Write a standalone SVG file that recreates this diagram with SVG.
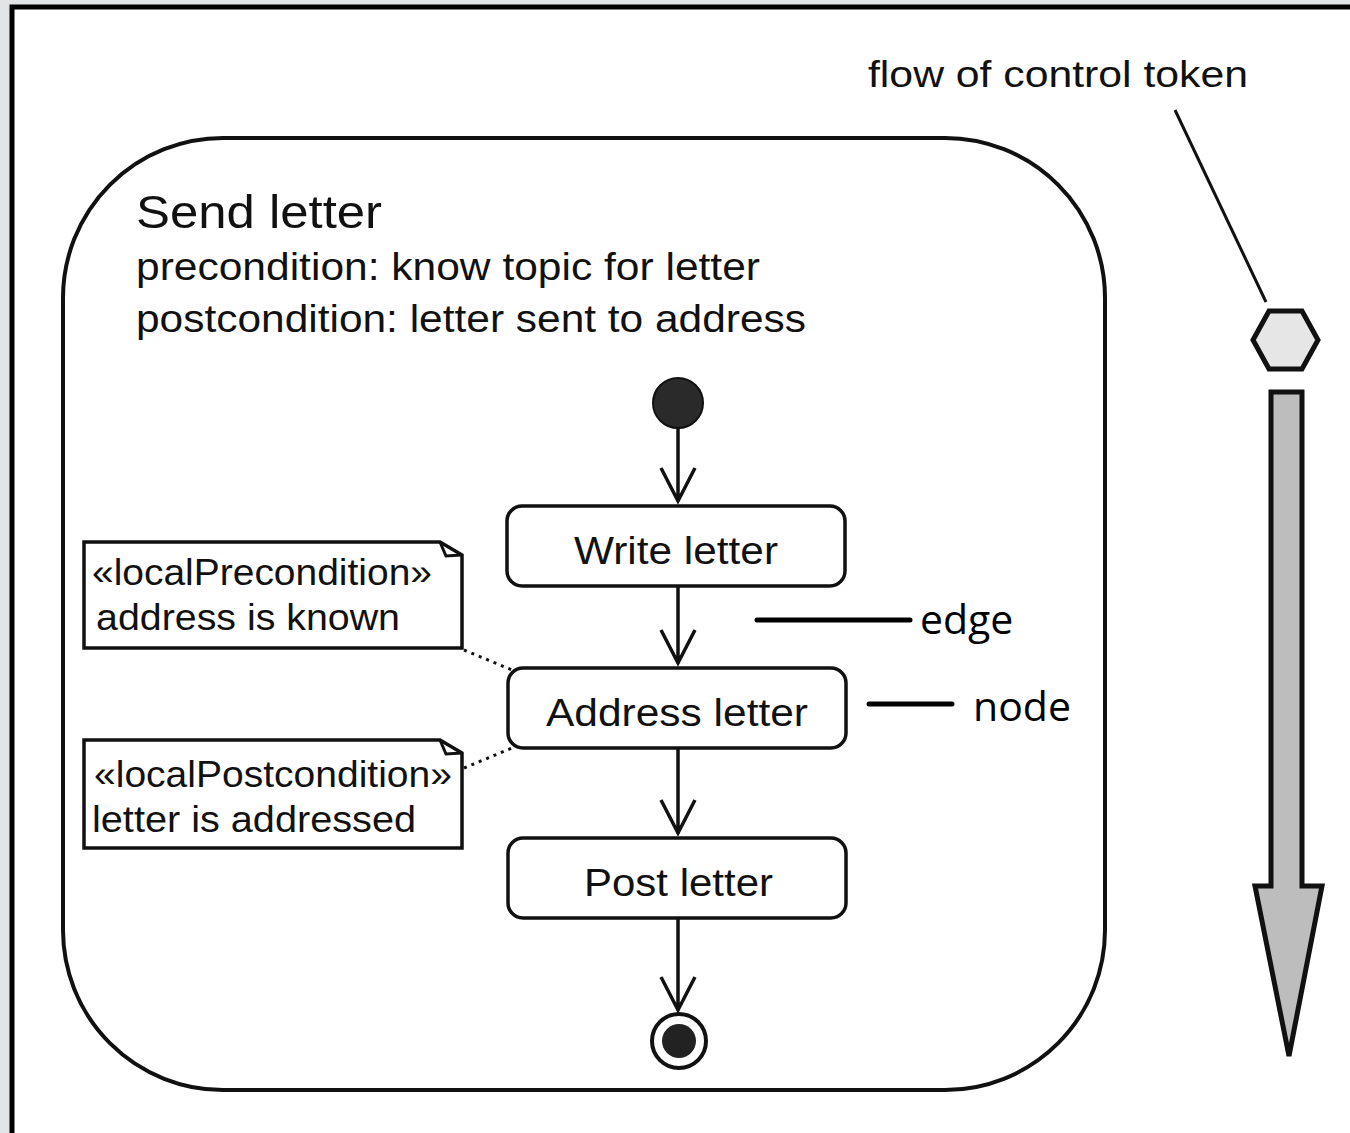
<svg xmlns="http://www.w3.org/2000/svg" width="1350" height="1133" viewBox="0 0 1350 1133">
<defs>
<style>
.t{font-family:"Liberation Sans",Arial,sans-serif;fill:#111;}
.lbl{font-family:"Open Sans","Noto Sans",sans-serif;fill:#000;font-size:41px;}
.box{fill:#fff;stroke:#111;stroke-width:3.5;}
.edge{stroke:#111;stroke-width:3.5;fill:none;}
.dot{stroke:#111;stroke-width:3;stroke-dasharray:3 5;fill:none;}
</style>
</defs>
<rect x="0" y="0" width="1350" height="1133" fill="#e3e4e5"/>
<rect x="12" y="7" width="1345" height="1140" fill="#fff" stroke="#000" stroke-width="5"/>

<g id="activity">
<rect x="63" y="138" width="1042" height="952" rx="160" ry="160" fill="none" stroke="#111" stroke-width="4"/>
<text class="t" x="136" y="228" font-size="46" textLength="246" lengthAdjust="spacingAndGlyphs">Send letter</text>
<text class="t" x="136" y="280" font-size="38" textLength="624" lengthAdjust="spacingAndGlyphs">precondition: know topic for letter</text>
<text class="t" x="136" y="332" font-size="38" textLength="670" lengthAdjust="spacingAndGlyphs">postcondition: letter sent to address</text>
</g>

<g id="initial">
<circle cx="678" cy="403" r="25" fill="#2a2a2a" stroke="#111" stroke-width="2"/>
</g>

<g id="write-letter">
<rect class="box" x="507" y="506" width="338" height="80" rx="15"/>
<text class="t" x="574" y="564" font-size="39" textLength="204" lengthAdjust="spacingAndGlyphs">Write letter</text>
</g>

<g id="address-letter">
<rect class="box" x="508" y="668" width="338" height="80" rx="15"/>
<text class="t" x="546" y="726" font-size="39" textLength="262" lengthAdjust="spacingAndGlyphs">Address letter</text>
</g>

<g id="post-letter">
<rect class="box" x="508" y="838" width="338" height="80" rx="15"/>
<text class="t" x="584" y="896" font-size="39" textLength="189" lengthAdjust="spacingAndGlyphs">Post letter</text>
</g>

<g id="final">
<circle cx="679" cy="1041" r="27" fill="#fff" stroke="#111" stroke-width="4"/>
<circle cx="679" cy="1041" r="17" fill="#222"/>
</g>

<g id="note-pre">
<path class="box" d="M84,542 H440 L462,555 V648 H84 Z" stroke-width="3"/>
<path d="M440,542 L446,556 L462,555" fill="none" stroke="#111" stroke-width="3"/>
<text class="t" x="92" y="585" font-size="36" textLength="340" lengthAdjust="spacingAndGlyphs">«localPrecondition»</text>
<text class="t" x="96" y="630" font-size="36" textLength="304" lengthAdjust="spacingAndGlyphs">address is known</text>
</g>

<g id="note-post">
<path class="box" d="M84,740 H440 L462,753 V848 H84 Z" stroke-width="3"/>
<path d="M440,740 L446,754 L462,753" fill="none" stroke="#111" stroke-width="3"/>
<text class="t" x="94" y="787" font-size="36" textLength="358" lengthAdjust="spacingAndGlyphs">«localPostcondition»</text>
<text class="t" x="92" y="832" font-size="36" textLength="324" lengthAdjust="spacingAndGlyphs">letter is addressed</text>
</g>

<g id="connectors">
<path class="edge" d="M678,428 V502 M661,468 L678,501 L695,468"/>
<path class="edge" d="M678,586 V664 M661,630 L678,663 L695,630"/>
<path class="edge" d="M678,748 V834 M661,800 L678,833 L695,800"/>
<path class="edge" d="M678,918 V1011 M661,977 L678,1010 L695,977"/>
<path class="dot" d="M464,650 L512,670"/>
<path class="dot" d="M464,768 L512,748"/>
<path d="M1175,110 L1266,302" stroke="#111" stroke-width="3"/>
</g>

<g id="labels">
<line x1="757" y1="620" x2="910" y2="620" stroke="#000" stroke-width="5" stroke-linecap="round"/>
<text class="lbl" x="920" y="634">edge</text>
<line x1="869" y1="704" x2="952" y2="704" stroke="#000" stroke-width="5" stroke-linecap="round"/>
<text class="lbl" x="973" y="721">node</text>
<text class="t" x="868" y="87" font-size="37" textLength="380" lengthAdjust="spacingAndGlyphs">flow of control token</text>
</g>

<g id="token">
<polygon points="1253,340 1269,311 1302,311 1318,340 1302,369 1269,369" fill="#e6e6e6" stroke="#111" stroke-width="5"/>
</g>

<g id="flow-arrow">
<polygon points="1271,392 1302,392 1302,886 1322,886 1289,1056 1255,886 1271,886" fill="#bdbdbd" stroke="#111" stroke-width="5" stroke-linejoin="miter"/>
</g>
</svg>
